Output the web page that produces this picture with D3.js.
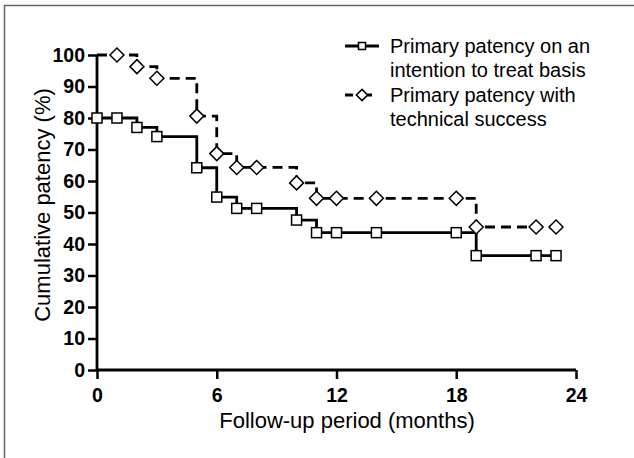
<!DOCTYPE html>
<html>
<head>
<meta charset="utf-8">
<script src="https://cdn.jsdelivr.net/npm/d3@7"></script>
<style>
  body { margin: 0; background: #fff; }
  text { font-family: Arial, "Liberation Sans", sans-serif; }
</style>
</head>
<body>
<div id="viz"></div>
<script>
// KM step points (month, %), the curve drops at each listed month
var ittStepMonths = [0, 2, 3, 5, 6, 7, 10, 11, 19, 23];
var ittStepValues = [80, 77, 74.1, 64.2, 54.9, 51.3, 47.6, 43.6, 36.3, 36.3];
var ittMarkMonths = [0, 1, 2, 3, 5, 6, 7, 8, 10, 11, 12, 14, 18, 19, 22, 23];

var techStepMonths = [0, 2, 3, 5, 6, 7, 10, 11, 19, 23];
var techStepValues = [100, 96.3, 92.6, 80.6, 68.7, 64.3, 59.4, 54.5, 45.4, 45.4];
var techMarkMonths = [1, 2, 3, 5, 6, 7, 8, 10, 11, 12, 14, 18, 19, 22, 23];

var xTicks = [0, 6, 12, 18, 24];
var yTicks = [0, 10, 20, 30, 40, 50, 60, 70, 80, 90, 100];
var legendLabels = [
    ["Primary patency on an", "intention to treat basis"],
    ["Primary patency with", "technical success"]
];

var svg = d3.select("#viz").append("svg")
    .attr("width", 634)
    .attr("height", 458);

var x = d3.scaleLinear().domain([0, 24]).range([97, 576]);
var y = d3.scaleLinear().domain([0, 100]).range([370, 55]);

// frame (only top and left edges are visible)
svg.append("path")
    .attr("d", "M4.5,458 V5.5 H634")
    .attr("fill", "none")
    .attr("stroke", "#666")
    .attr("stroke-width", 1.5);

drawAxes();
drawCurve(ittStepMonths, ittStepValues, ittMarkMonths, null, "square");
drawCurve(techStepMonths, techStepValues, techMarkMonths, "10,6", "diamond");
drawLegend();

function valueAt(months, values, m) {
    var v = values[0];
    for (var i = 0; i < months.length; i++) {
        if (months[i] <= m) v = values[i];
    }
    return v;
}

function drawAxes() {
    var yAxis = d3.axisLeft(y).tickValues(yTicks).tickSize(9).tickPadding(3);
    var gy = svg.append("g")
        .attr("transform", "translate(97,0)")
        .call(yAxis);
    gy.select(".domain").attr("stroke-width", 2.8).attr("d", "M0,371V55");
    gy.selectAll(".tick line").attr("stroke-width", 2.5);
    gy.selectAll(".tick text")
        .attr("font-size", 19.5)
        .attr("font-weight", "bold")
        .attr("font-family", "Arial, 'Liberation Sans', sans-serif");

    var xAxis = d3.axisBottom(x).tickValues(xTicks).tickSize(9).tickPadding(9);
    var gx = svg.append("g")
        .attr("transform", "translate(0,370)")
        .call(xAxis);
    gx.select(".domain").attr("stroke-width", 2.8).attr("d", "M96,0H576");
    gx.selectAll(".tick line").attr("stroke-width", 2.5);
    gx.selectAll(".tick text")
        .attr("font-size", 19.5)
        .attr("font-weight", "bold")
        .attr("font-family", "Arial, 'Liberation Sans', sans-serif");

    svg.append("text")
        .attr("x", 347)
        .attr("y", 428)
        .attr("text-anchor", "middle")
        .attr("font-size", 22)
        .text("Follow-up period (months)");

    svg.append("text")
        .attr("transform", "translate(50,205) rotate(-90)")
        .attr("text-anchor", "middle")
        .attr("font-size", 22)
        .text("Cumulative patency (%)");
}

function drawMarker(g, cx, cy, shape, size) {
    if (shape == "square") {
        g.append("rect")
            .attr("x", cx - size / 2)
            .attr("y", cy - size / 2)
            .attr("width", size)
            .attr("height", size)
            .attr("fill", "#fff")
            .attr("stroke", "#000")
            .attr("stroke-width", 1.5);
    } else {
        var r = size * 0.7;
        g.append("path")
            .attr("d", "M" + cx + "," + (cy - r) + "L" + (cx + r) + "," + cy +
                "L" + cx + "," + (cy + r) + "L" + (cx - r) + "," + cy + "Z")
            .attr("fill", "#fff")
            .attr("stroke", "#000")
            .attr("stroke-width", 1.5);
    }
}

function drawCurve(months, values, marks, dash, shape) {
    var pts = months.map(function(m, i) { return {m: m, v: values[i]}; });
    var line = d3.line()
        .x(function(d) { return x(d.m); })
        .y(function(d) { return y(d.v); })
        .curve(d3.curveStepAfter);

    svg.append("path")
        .attr("d", line(pts))
        .attr("fill", "none")
        .attr("stroke", "#000")
        .attr("stroke-width", 2.8)
        .attr("stroke-dasharray", dash);

    var g = svg.append("g");
    marks.forEach(function(m) {
        drawMarker(g, x(m), y(valueAt(months, values, m)), shape, 10);
    });
}

function drawLegend() {
    var rows = [{y: 46, dash: null, shape: "square"}, {y: 95, dash: "8,11,8", shape: "diamond"}];
    rows.forEach(function(r, i) {
        svg.append("line")
            .attr("x1", 345).attr("x2", 379)
            .attr("y1", r.y).attr("y2", r.y)
            .attr("stroke", "#000")
            .attr("stroke-width", 2.8)
            .attr("stroke-dasharray", r.dash);
        drawMarker(svg, 362, r.y, r.shape, r.shape == "square" ? 7 : 8);
        svg.append("text")
            .attr("x", 390)
            .attr("y", r.y + 7)
            .attr("font-size", 20)
            .text(legendLabels[i][0]);
        svg.append("text")
            .attr("x", 390)
            .attr("y", r.y + 31)
            .attr("font-size", 20)
            .text(legendLabels[i][1]);
    });
}
</script>
</body>
</html>
